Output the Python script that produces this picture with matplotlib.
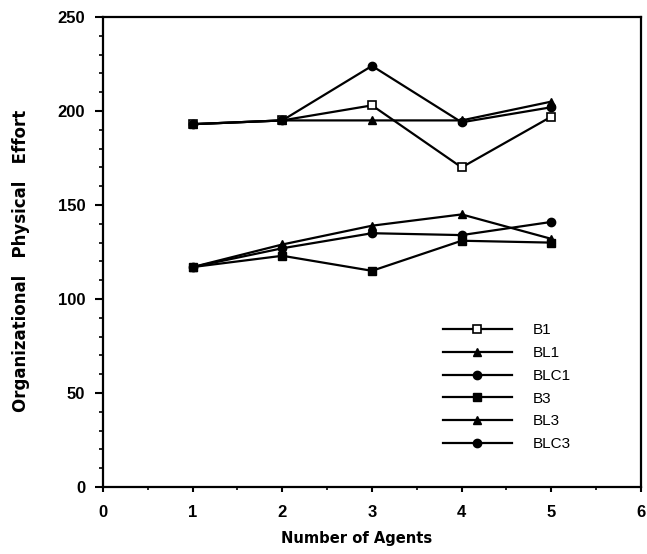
import numpy as np
import matplotlib.pyplot as plt
from matplotlib.ticker import MultipleLocator

plt.rcParams['font.family'] = ['Liberation Sans', 'DejaVu Sans']

agents = [1, 2, 3, 4, 5]

b1 = [193, 195, 203, 170, 197]
bl1 = [193, 195, 195, 195, 205]
blc1 = [193, 195, 224, 194, 202]
b3 = [117, 123, 115, 131, 130]
bl3 = [117, 129, 139, 145, 132]
blc3 = [117, 127, 135, 134, 141]

fig = plt.figure(figsize=(6.47, 5.54), dpi=100)
ax = fig.add_axes([0.1592, 0.1209, 0.8315, 0.8484])

style = dict(color="black", lw=1.6, ms=6)
ax.plot(agents, b1, marker="s", mfc="white", mew=1.2, label="B1", **style)
ax.plot(agents, bl1, marker="^", label="BL1", **style)
ax.plot(agents, blc1, marker="o", label="BLC1", **style)
ax.plot(agents, b3, marker="s", label="B3", **style)
ax.plot(agents, bl3, marker="^", label="BL3", **style)
ax.plot(agents, blc3, marker="o", label="BLC3", **style)

ax.set_xlim(0, 6)
ax.set_ylim(0, 250)
ax.xaxis.set_major_locator(MultipleLocator(1))
ax.xaxis.set_minor_locator(MultipleLocator(0.5))
ax.yaxis.set_major_locator(MultipleLocator(50))
ax.yaxis.set_minor_locator(MultipleLocator(10))
ax.tick_params(axis="y", which="major", direction="out", length=5.8, width=1.5, pad=7, labelsize=12)
ax.tick_params(axis="y", which="minor", direction="out", length=2.9, width=1.2)
ax.tick_params(axis="x", which="major", direction="out", length=3.6, width=1.5, pad=9.4, labelsize=12)
ax.tick_params(axis="x", which="minor", direction="out", length=2.2, width=1.2)
for lab in ax.get_xticklabels() + ax.get_yticklabels():
    lab.set_fontweight("bold")
for sp in ax.spines.values():
    sp.set_linewidth(1.6)

# axis titles in a wider heavy face, as in the scan
fig.text(357 / 647, 1 - 539 / 554, "Number of Agents", family="DejaVu Sans",
         fontweight="bold", fontsize=10.6, ha="center", va="center")
fig.text(21 / 647, 1 - 261 / 554, "Organizational   Physical   Effort", family="DejaVu Sans",
         fontweight="bold", fontsize=12, rotation=90, ha="center", va="center")

ax.legend(loc="upper left", bbox_to_anchor=(0.632, 0.348), frameon=False,
          handlelength=4.5, handletextpad=1.4, labelspacing=0.57, borderpad=0,
          borderaxespad=0, fontsize=11)

fig.savefig("out.png", dpi=100)
